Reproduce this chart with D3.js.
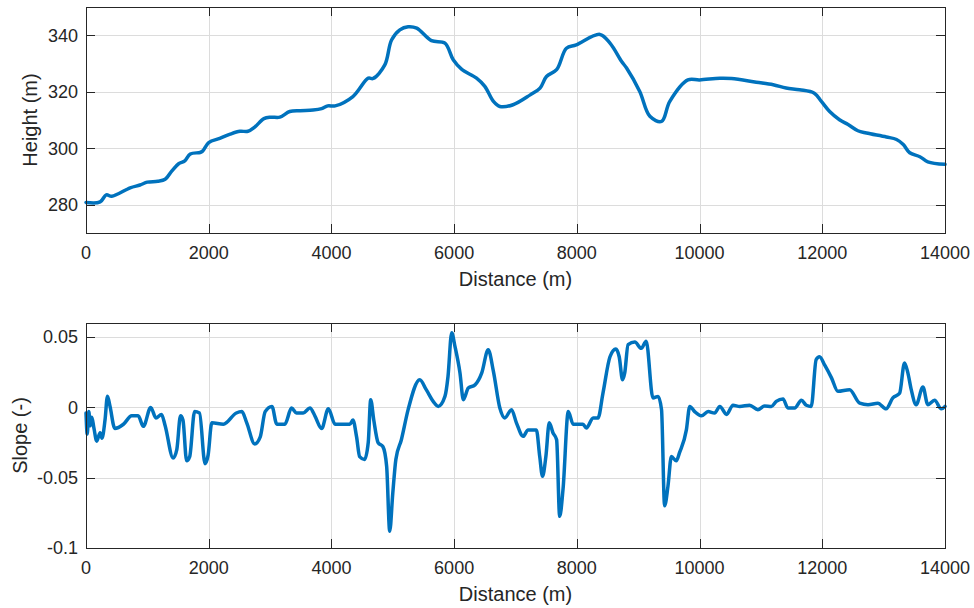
<!DOCTYPE html>
<html>
<head>
<meta charset="utf-8">
<script src="https://cdn.jsdelivr.net/npm/d3@7"></script>
<style>
  body { margin: 0; background: #fff; }
  svg text { font-family: "Liberation Sans", Arial, Helvetica, sans-serif; fill: #262626; }
</style>
</head>
<body>
<svg id="chart" width="974" height="608"></svg>
<script>
"use strict";

// distance / height profile
var heightDist = [0, 230, 330, 420, 720, 880, 1000, 1170, 1290, 1400, 1510, 1610, 1700, 1860, 1900, 2000,
	2180, 2350, 2510, 2640, 2750, 2900, 3010, 3160, 3320, 3490, 3700, 3840, 3940, 4060, 4350, 4600, 4680,
	4870, 4980, 5115, 5250, 5390, 5630, 5850, 5985, 6120, 6365, 6500, 6640, 6745, 6960, 7240, 7400, 7505,
	7670, 7830, 7990, 8375, 8540, 8730, 8810, 9025, 9190, 9380, 9515, 9810, 10000, 10330, 10520, 10925,
	11200, 11410, 11630, 11870, 11985, 12120, 12280, 12420, 12580, 12720, 13045, 13210, 13320, 13425,
	13590, 13720, 14000];
var heightVals = [280.8, 281, 283.5, 283, 286, 287, 288, 288.3, 289, 292, 294.5, 295.5, 298, 298.5, 299, 302,
	303.5, 305, 306, 306, 307.5, 310.5, 311, 311, 313, 313.3, 313.5, 314, 315, 315, 318.3, 324.8, 324.7,
	329.5, 338.3, 341.9, 343, 342.5, 338.1, 337.2, 331.3, 328, 324.8, 321.9, 316.6, 314.8, 315.4, 318.9, 321.3, 325.4,
	327.8, 335.4, 336.6, 340.3, 337.2, 330.7, 328.4, 320.1, 311.3, 309.5, 316.6, 324.2, 324.2, 324.8, 324.7, 323.4,
	322.5, 321.3, 320.7, 319.5, 316.6, 313, 310.1, 308.4, 306.2, 305.4, 304, 303.1, 301.3, 298.4,
	297, 295.2, 294.3];

// distance / slope profile
var slopeDist = [0, 20, 45, 70, 95, 130, 175, 230, 260, 310, 350, 390, 470, 610, 745, 850, 935, 1055, 1140,
	1230, 1290, 1420, 1480, 1540, 1580, 1640, 1690, 1770, 1850, 1940, 1990, 2050, 2240, 2450, 2540, 2620,
	2750, 2840, 2920, 3030, 3110, 3240, 3350, 3430, 3540, 3650, 3730, 3840, 3950, 4060, 4300, 4350, 4410,
	4460, 4540, 4600, 4640, 4690, 4760, 4840, 4900, 4950, 5000, 5050, 5140, 5250, 5440, 5545, 5680, 5740,
	5850, 5900, 5960, 6015, 6095, 6150, 6230, 6340, 6450, 6555, 6640, 6745, 6825, 6935, 7015, 7125, 7205,
	7340, 7395, 7440, 7495, 7550, 7610, 7670, 7720, 7775, 7860, 7940, 8100, 8155, 8265, 8345, 8425, 8540,
	8635, 8690, 8745, 8780, 8835, 8945, 9050, 9130, 9240, 9325, 9380, 9430, 9485, 9540, 9620, 9675, 9785,
	9840, 9920, 10030, 10140, 10245, 10330, 10440, 10545, 10655, 10815, 10950, 11060, 11170, 11250, 11360,
	11440, 11550, 11660, 11740, 11820, 11900, 11955, 12040, 12150, 12255, 12445, 12610, 12745, 12905, 13040,
	13150, 13260, 13340, 13395, 13450, 13530, 13640, 13720, 13830, 13940, 14000];
var slopeVals = [-0.004, -0.019, -0.003, -0.013, -0.007, -0.015, -0.024, -0.018, -0.022, -0.009, 0.008, 0.001,
	-0.015, -0.012, -0.006, -0.006, -0.0135, 0, -0.0075, -0.005, -0.013, -0.036, -0.030, -0.006, -0.009,
	-0.038, -0.035, -0.003, -0.004, -0.040, -0.034, -0.011, -0.012, -0.004, -0.003, -0.011, -0.026, -0.021,
	-0.003, 0.0007, -0.012, -0.012, -0.0005, -0.004, -0.004, -0.0005, -0.006, -0.015, -0.001, -0.012, -0.012,
	-0.009, -0.021, -0.035, -0.037, -0.025, 0.0055, -0.009, -0.025, -0.028, -0.042, -0.088, -0.061, -0.037,
	-0.023, -0.0016, 0.0197, 0.0126, 0.003, 0.0007, 0.0078, 0.022, 0.053, 0.043, 0.0245, 0.0055, 0.0138,
	0.016, 0.0245, 0.041, 0.0256, -0.0005, -0.0075, -0.0016, -0.011, -0.0206, -0.016, -0.016, -0.035, -0.049,
	-0.035, -0.011, -0.018, -0.023, -0.0775, -0.058, -0.003, -0.012, -0.012, -0.0147, -0.0075, -0.0075, 0.010,
	0.036, 0.0415, 0.036, 0.0197, 0.0245, 0.0446, 0.0465, 0.042, 0.047, 0.0067, 0.0078, -0.0016, -0.070,
	-0.056, -0.035, -0.038, -0.032, -0.016, 0.0007, -0.003, -0.006, -0.003, -0.004, 0.0007, -0.005, 0.0015,
	0.0007, 0.0015, -0.0016, 0.001, 0.0007, 0.0043, 0.006, -0.0005, -0.0005, 0.005, 0.0015, 0.0007, 0.034,
	0.036, 0.030, 0.021, 0.0114, 0.0126, 0.003, 0.0019, 0.003, -0.001, 0.0067, 0.010, 0.0316, 0.0245, 0.0126,
	0.0019, 0.0145, 0.0019, 0.005, -0.001, 0.0007];

// ticks
var xTicks = [0, 2000, 4000, 6000, 8000, 10000, 12000, 14000];
var heightTicks = [280, 300, 320, 340];
var slopeTicks = [-0.1, -0.05, 0, 0.05];
var slopeTickLabels = ["-0.1", "-0.05", "0", "0.05"];

var svg = d3.select("#chart");
var lineColor = "#0072BD";

/**
 * Draw one MATLAB-style boxed panel
 */
var drawPanel = function (opt) {
	var x = d3.scaleLinear().domain([0, 14000]).range([opt.left, opt.right]),
		y = d3.scaleLinear().domain(opt.yDomain).range([opt.bottom, opt.top]),
		g = svg.append("g"),
		tick = 9;

	// grid
	g.selectAll(".gx").data(xTicks).enter().append("line")
		.attr("x1", function (d) { return Math.round(x(d)) + 0.5; })
		.attr("x2", function (d) { return Math.round(x(d)) + 0.5; })
		.attr("y1", opt.top).attr("y2", opt.bottom)
		.attr("stroke", "#dcdcdc").attr("stroke-width", 1);
	g.selectAll(".gy").data(opt.yTicks).enter().append("line")
		.attr("y1", function (d) { return Math.round(y(d)) + 0.5; })
		.attr("y2", function (d) { return Math.round(y(d)) + 0.5; })
		.attr("x1", opt.left).attr("x2", opt.right)
		.attr("stroke", "#dcdcdc").attr("stroke-width", 1);

	// data line
	g.append("path")
		.datum(d3.zip(opt.xs, opt.ys))
		.attr("fill", "none")
		.attr("stroke", lineColor)
		.attr("stroke-width", opt.lw)
		.attr("stroke-linejoin", "round")
		.attr("stroke-linecap", "round")
		.attr("d", d3.line()
			.x(function (d) { return x(d[0]); })
			.y(function (d) { return y(d[1]); })
			.curve(opt.curve));

	// box
	g.append("rect")
		.attr("x", opt.left + 0.5).attr("y", opt.top + 0.5)
		.attr("width", opt.right - opt.left).attr("height", opt.bottom - opt.top)
		.attr("fill", "none").attr("stroke", "#262626").attr("stroke-width", 1);

	// inward ticks on all four sides
	xTicks.forEach(function (d) {
		var px = Math.round(x(d)) + 0.5;
		g.append("line").attr("x1", px).attr("x2", px)
			.attr("y1", opt.bottom).attr("y2", opt.bottom - tick).attr("stroke", "#262626");
		g.append("line").attr("x1", px).attr("x2", px)
			.attr("y1", opt.top).attr("y2", opt.top + tick).attr("stroke", "#262626");
	});
	opt.yTicks.forEach(function (d) {
		var py = Math.round(y(d)) + 0.5;
		g.append("line").attr("y1", py).attr("y2", py)
			.attr("x1", opt.left).attr("x2", opt.left + tick).attr("stroke", "#262626");
		g.append("line").attr("y1", py).attr("y2", py)
			.attr("x1", opt.right).attr("x2", opt.right - tick).attr("stroke", "#262626");
	});

	// tick labels
	g.selectAll(".tx").data(xTicks).enter().append("text")
		.attr("x", function (d) { return x(d); })
		.attr("y", opt.bottom + 26)
		.attr("text-anchor", "middle")
		.attr("font-size", 18)
		.text(function (d) { return d; });
	g.selectAll(".ty").data(opt.yTicks).enter().append("text")
		.attr("x", opt.left - 8)
		.attr("y", function (d) { return y(d); })
		.attr("dy", "0.35em")
		.attr("text-anchor", "end")
		.attr("font-size", 18)
		.text(function (d, i) { return opt.yLabels[i]; });

	// axis titles
	g.append("text")
		.attr("x", (opt.left + opt.right) / 2)
		.attr("y", opt.bottom + 52.5)
		.attr("text-anchor", "middle")
		.attr("font-size", 20)
		.text("Distance (m)");
	g.append("text")
		.attr("transform", "translate(" + opt.yTitleX + "," + (opt.top + opt.bottom) / 2 + ") rotate(-90)")
		.attr("text-anchor", "middle")
		.attr("font-size", 20)
		.text(opt.yTitle);
};

drawPanel({
	left: 86, right: 945, top: 7, bottom: 233,
	yDomain: [270, 350],
	yTicks: heightTicks,
	yLabels: heightTicks.map(String),
	xs: heightDist, ys: heightVals,
	lw: 3.5,
	curve: d3.curveCatmullRom.alpha(0.5),
	yTitle: "Height (m)",
	yTitleX: 37
});

drawPanel({
	left: 86, right: 945, top: 323, bottom: 548,
	yDomain: [-0.1, 0.06],
	yTicks: slopeTicks,
	yLabels: slopeTickLabels,
	xs: slopeDist, ys: slopeVals,
	lw: 3.5,
	curve: d3.curveMonotoneX,
	yTitle: "Slope (-)",
	yTitleX: 27
});
</script>
</body>
</html>
